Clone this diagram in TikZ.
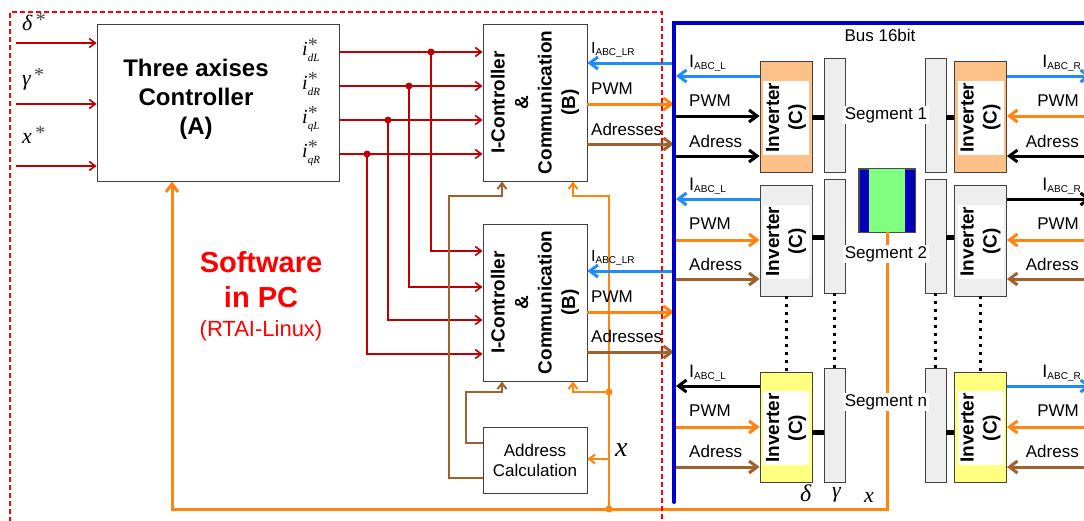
\documentclass[tikz,border=0pt]{standalone}
\usepackage{fontspec}
\setmainfont{Liberation Sans}
\newfontfamily\tms{Liberation Serif}
\usetikzlibrary{arrows.meta}
\definecolor{dred}{HTML}{C00000}
\definecolor{org}{HTML}{FF8410}
\definecolor{brn}{HTML}{A0622D}
\definecolor{lblue}{HTML}{1E8CFF}
\definecolor{busblue}{HTML}{0000CC}
\definecolor{peach}{HTML}{FDC086}
\definecolor{lgray}{HTML}{EEEEEE}
\definecolor{lyel}{HTML}{FFFF80}
\definecolor{lgreen}{HTML}{80FF80}
\definecolor{dblue}{HTML}{0000BB}
\definecolor{stargray}{HTML}{444444}
\newcommand\fsz[2]{\fontsize{#1}{#2}\selectfont}
\newcommand\Isub[2]{{\fsz{#1}{#1}I\raisebox{-2.5pt}{\fsz{10}{10}#2}}}
\newcommand\iref[1]{{\tms\itshape\fsz{20}{20}i\rlap{\raisebox{3.5pt}{\fsz{20}{20}\upshape\color{stargray}*}}\raisebox{-6pt}{\fsz{11}{11}#1}}}
\newcommand\gref[1]{{\tms\itshape\fsz{22}{22}#1\raisebox{3.5pt}{\fsz{20}{20}\upshape\color{stargray}\,*}}}
\begin{document}
\begin{tikzpicture}[x=1pt,y=-1pt,
  blk/.style={draw=black!75,line width=0.9pt,fill=white,inner sep=0pt},
  tipS/.style={-{Straight Barb[length=6pt,width=9pt]}},
  tipL/.style={-{Straight Barb[length=8pt,width=12pt]}},
  rl/.style={draw=dred,line width=1.6pt},
  ol/.style={draw=org,line width=2pt},
  bl/.style={draw=brn,line width=2pt},
  lab/.style={font=\fsz{17}{20},inner sep=0pt},
  inv/.style={draw=black!75,line width=0.9pt,minimum width=52pt,minimum height=111pt,inner sep=0pt},
  invtxt/.style={fill=white,rotate=90,align=center,font=\fsz{19}{23}\bfseries,minimum width=74pt,minimum height=46pt,inner sep=0pt},
  segbar/.style={draw=black!75,fill=lgray,line width=0.9pt,minimum width=21pt,minimum height=114pt,inner sep=0pt},
  jdot/.style={circle,inner sep=0pt,minimum size=7pt,fill=#1},
  btxt/.style={rotate=90,align=center,font=\fsz{19}{23.5}\bfseries},
  dots/.style={line width=3pt,dash pattern=on 3pt off 5pt},
  thk/.style={line width=3pt},
]
\useasboundingbox (0,0) rectangle (1084,520);
\clip (0,0) rectangle (1084,520);

% ---------- Controller A ----------
\node[blk,minimum width=242pt,minimum height=157pt] (A) at (218,102.5) {};
\node[font=\fsz{24}{29}\bfseries,align=center] at (196,99) {Three axises\\Controller\\(A)};

\coordinate (in1) at (16,43);
\coordinate (in2) at (16,104);
\coordinate (in3) at (16,166);
\draw[rl,tipS] (in1) -- (A.west |- in1);
\draw[rl,tipS] (in2) -- (A.west |- in2);
\draw[rl,tipS] (in3) -- (A.west |- in3);
\node[anchor=base west,inner sep=0pt] at (22,30) {\gref{δ}};
\node[anchor=base west,inner sep=0pt] at (22,85) {\gref{γ}};
\node[anchor=base west,inner sep=0pt] at (22,143) {\gref{x}};

\node[anchor=base west,inner sep=0pt] at (302,55) {\iref{dL}};
\node[anchor=base west,inner sep=0pt] at (302,89) {\iref{dR}};
\node[anchor=base west,inner sep=0pt] at (302,123) {\iref{qL}};
\node[anchor=base west,inner sep=0pt] at (302,157) {\iref{qR}};

% ---------- B blocks ----------
\node[blk,minimum width=104pt,minimum height=157pt] (B1) at (535,102.5) {};
\node[btxt] at (B1) {I-Controller\\\&\\Communication\\(B)};
\node[blk,minimum width=104pt,minimum height=157pt] (B2) at (535,302.5) {};
\node[btxt] at (B2) {I-Controller\\\&\\Communication\\(B)};
\node[blk,minimum width=104pt,minimum height=66pt,align=center,font=\fsz{17}{20}] (AC) at (535,460) {Address\\Calculation};

% red routing
\foreach \y/\x/\yy in {52/431/251, 86/409/287, 120/388/320, 154/367/354} {
  \coordinate (s) at (\x,\y);
  \coordinate (t) at (\x,\yy);
  \draw[rl,tipS] (A.east |- s) -- (B1.west |- s);
  \draw[rl,tipS] (s) -- (t) -- (B2.west |- t);
  \node[jdot=dred] at (s) {};
}

% brown routing
\coordinate (b1) at (466,443);
\coordinate (b2) at (502,392);
\coordinate (b3) at (449,478);
\coordinate (b4) at (502,196);
\draw[bl,tipS] (AC.west |- b1) -- (b1) -- (b1 |- b2) -- (b2) -- (B2.south -| b2);
\draw[bl,tipS] (AC.west |- b3) -- (b3) -- (b3 |- b4) -- (b4) -- (B1.south -| b4);

% orange internal routing
\coordinate (oj) at (609,509);
\coordinate (o1) at (573,196);
\coordinate (o2) at (609,392);
\coordinate (o3) at (573,392);
\coordinate (o4) at (609,459);
\draw[ol,tipS] (oj) -- (oj |- o1) -- (o1) -- (B1.south -| o1);
\draw[ol,tipS] (o2) -- (o3) -- (B2.south -| o3);
\draw[ol,tipS] (o4) -- (AC.east |- o4);
\node[anchor=base west,inner sep=0pt] at (615,456) {\tms\itshape\fsz{28}{28}x};

% ---------- segments ----------
\node[inv,fill=peach] (i1L) at (786,116.5) {};
\node[inv,fill=peach] (i1R) at (980.5,116.5) {};
\node[inv,fill=lgray] (i2L) at (786,240.5) {};
\node[inv,fill=lgray] (i2R) at (980.5,240.5) {};
\node[inv,fill=lyel,minimum height=110pt] (inL) at (786,427) {};
\node[inv,fill=lyel,minimum height=110pt] (inR) at (980.5,427) {};
\foreach \n in {i1L,i1R,i2L,i2R,inL,inR}{
  \node[invtxt] at ([yshift=-1pt]\n.center) {Inverter\\(C)};
}
\node[segbar] (s1L) at (834.5,115) {};
\node[segbar] (s1R) at (935.5,115) {};
\node[segbar] (s2L) at (834.5,236) {};
\node[segbar] (s2R) at (935.5,236) {};
\node[segbar] (snL) at (834.5,425) {};
\node[segbar] (snR) at (935.5,425) {};

\coordinate (c1) at (0,117);
\coordinate (c2) at (0,237);
\coordinate (c3) at (0,432);
\draw[line width=5pt] (i1L.east |- c1) -- (s1L.west |- c1);
\draw[line width=5pt] (s1R.east |- c1) -- (i1R.west |- c1);
\draw[line width=5pt] (i2L.east |- c2) -- (s2L.west |- c2);
\draw[line width=5pt] (s2R.east |- c2) -- (i2R.west |- c2);
\draw[line width=5pt] (inL.east |- c3) -- (snL.west |- c3);
\draw[line width=5pt] (snR.east |- c3) -- (inR.west |- c3);

\draw[dots] (i2L.south) -- (inL.north);
\draw[dots] (s2L.south) -- (snL.north);
\draw[dots] (s2R.south) -- (snR.north);
\draw[dots] (i2R.south) -- (inR.north);

% green block and feedback
\node[draw=black!70,fill=dblue,minimum width=56pt,minimum height=63pt,inner sep=0pt] (G) at (887,200.5) {};
\fill[lgreen] ([xshift=10pt]G.north west) rectangle ([xshift=-10pt]G.south east);
\draw[black!70,line width=0.8pt] (G.north west) rectangle (G.south east);
\coordinate (fb) at (172,509);
\draw[org,line width=3pt,tipL] (G.south) -- (G.south |- fb) -- (fb) -- (A.south -| fb);
\node[jdot=org] at (oj) {};
\node[jdot=org] at (o2) {};

\node[lab,fill=white,inner sep=1.5pt] at (886,115) {Segment 1};
\node[lab,fill=white,inner sep=1.5pt] at (886,254) {Segment 2};
\node[lab,fill=white,inner sep=1.5pt] at (886,402) {Segment n};

\node[anchor=base west,inner sep=0pt] at (800,501) {\tms\itshape\fsz{24}{24}δ};
\node[anchor=base west,inner sep=0pt] at (832,497) {\tms\itshape\fsz{22}{22}γ};
\node[anchor=base west,inner sep=0pt] at (864,502) {\tms\itshape\fsz{22}{22}x};

% ---------- bus side arrows ----------
\coordinate (busx) at (674,0);
\coordinate (busr) at (676,0);
\coordinate (edge) at (1091,0);
% B1
\draw[lblue,thk,tipL] (busx |- 0,63) -- (B1.east |- 0,63);
\draw[org,thk,tipL] (B1.east |- 0,104) -- (busx |- 0,104);
\draw[brn,thk,tipL] (B1.east |- 0,144) -- (busx |- 0,144);
\node[anchor=base west,inner sep=0pt] at (591,53) {\Isub{16}{ABC\_LR}};
\node[lab,anchor=base west] at (591,94) {PWM};
\node[lab,anchor=base west] at (591,135) {Adresses};
% B2
\draw[lblue,thk,tipL] (busx |- 0,271) -- (B2.east |- 0,271);
\draw[org,thk,tipL] (B2.east |- 0,312) -- (busx |- 0,312);
\draw[brn,thk,tipL] (B2.east |- 0,352) -- (busx |- 0,352);
\node[anchor=base west,inner sep=0pt] at (591,261) {\Isub{16}{ABC\_LR}};
\node[lab,anchor=base west] at (591,302) {PWM};
\node[lab,anchor=base west] at (591,342) {Adresses};

% segment 1
\draw[lblue,thk,tipL] (i1L.west |- 0,76) -- (busr |- 0,76);
\draw[black,thk,tipL] (busr |- 0,116) -- (i1L.west |- 0,116);
\draw[black,thk,tipL] (busr |- 0,156) -- (i1L.west |- 0,156);
\draw[lblue,thk,tipL] (i1R.east |- 0,76) -- (edge |- 0,76);
\draw[org,thk,tipL] (edge |- 0,116) -- (i1R.east |- 0,116);
\draw[black,thk,tipL] (edge |- 0,156) -- (i1R.east |- 0,156);
% segment 2
\draw[lblue,thk,tipL] (i2L.west |- 0,199) -- (busr |- 0,199);
\draw[org,thk,tipL] (busr |- 0,240) -- (i2L.west |- 0,240);
\draw[brn,thk,tipL] (busr |- 0,279) -- (i2L.west |- 0,279);
\draw[black,thk,tipL] (i2R.east |- 0,199) -- (edge |- 0,199);
\draw[org,thk,tipL] (edge |- 0,240) -- (i2R.east |- 0,240);
\draw[brn,thk,tipL] (edge |- 0,279) -- (i2R.east |- 0,279);
% segment n
\draw[black,thk,tipL] (inL.west |- 0,386) -- (busr |- 0,386);
\draw[org,thk,tipL] (busr |- 0,427) -- (inL.west |- 0,427);
\draw[brn,thk,tipL] (busr |- 0,467) -- (inL.west |- 0,467);
\draw[lblue,thk,tipL] (inR.east |- 0,386) -- (edge |- 0,386);
\draw[org,thk,tipL] (edge |- 0,427) -- (inR.east |- 0,427);
\draw[brn,thk,tipL] (edge |- 0,467) -- (inR.east |- 0,467);

\foreach \t in {0,123,310}{
  \node[anchor=base west,inner sep=0pt] at (689,67+\t) {\Isub{18}{ABC\_L}};
  \node[lab,anchor=base west] at (689,106+\t) {PWM};
  \node[lab,anchor=base west] at (689,147+\t) {Adress};
  \node[anchor=base east,inner sep=0pt] at (1081,67+\t) {\Isub{18}{ABC\_R}};
  \node[lab,anchor=base east] at (1079,106+\t) {PWM};
  \node[lab,anchor=base east] at (1079,147+\t) {Adress};
}

% ---------- Software label ----------
\node[anchor=base,inner sep=0pt,text=red,font=\fsz{29}{29}\bfseries] at (261,272) {Software};
\node[anchor=base,inner sep=0pt,text=red,font=\fsz{29}{29}\bfseries] at (261,307) {in PC};
\node[anchor=base,inner sep=0pt,text=red,font=\fsz{22}{22}] at (261,336) {(RTAI-Linux)};

% ---------- frame and bus ----------
\draw[red,line width=1.5pt,dash pattern=on 5pt off 3pt] (10,530) -- (10,12) -- (662,12) -- (662,530);
\coordinate (busB) at (674,502);
\coordinate (busT) at (674,23);
\coordinate (busE) at (1095,23);
\draw[busblue,line width=4pt,line cap=round] (busB) -- (busT) -- (busE);
\node[lab] at (880,35) {Bus 16bit};
\end{tikzpicture}
\end{document}
